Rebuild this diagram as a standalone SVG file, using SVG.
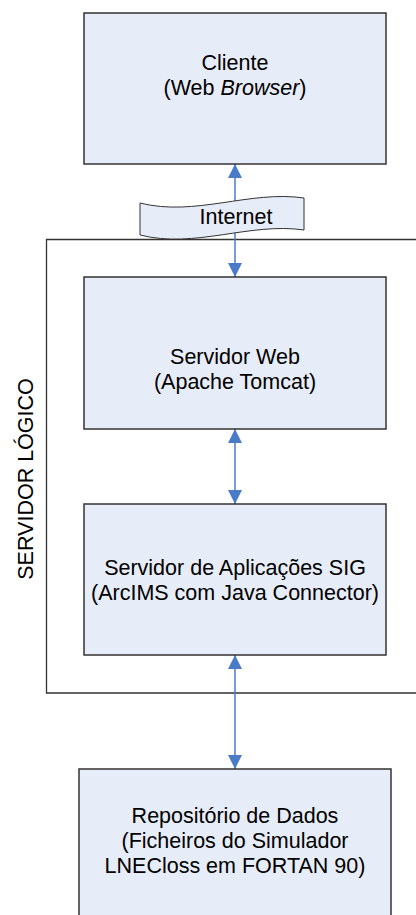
<svg xmlns="http://www.w3.org/2000/svg" width="416" height="915" viewBox="0 0 416 915">
<style>
.box{fill:#E7EDF8;stroke:#333;stroke-width:1.5}
.t{font-family:"Liberation Sans",Arial,sans-serif;font-size:21.5px;fill:#000;text-anchor:middle}
.conn{stroke:#4A7BC8;stroke-width:1.5;fill:none}
</style>
<defs>
<marker id="ah" markerUnits="userSpaceOnUse" markerWidth="14" markerHeight="14" refX="14" refY="7" orient="auto-start-reverse">
<path d="M0,0 L14,7 L0,14 z" fill="#4A7BC8"/>
</marker>
</defs>
<rect width="416" height="915" fill="#fff"/>
<g id="servidor-logico">
<path d="M420,239.5 H46.5 V693 H420" fill="none" stroke="#333" stroke-width="1.3"/>
<text class="t" transform="translate(33,479) rotate(-90)">SERVIDOR LÓGICO</text>
</g>
<g id="connectors">
<line class="conn" x1="235" y1="164" x2="235" y2="277" marker-start="url(#ah)" marker-end="url(#ah)"/>
<line class="conn" x1="235" y1="429" x2="235" y2="504" marker-start="url(#ah)" marker-end="url(#ah)"/>
<line class="conn" x1="235" y1="655" x2="235" y2="769" marker-start="url(#ah)" marker-end="url(#ah)"/>
</g>
<g id="cliente">
<rect class="box" x="84" y="13" width="302" height="151"/>
<text class="t" x="235" y="70">Cliente</text>
<text class="t" x="235" y="95">(Web <tspan font-style="italic">Browser</tspan>)</text>
</g>
<g id="internet">
<path d="M140,203 C195,217 250,190 304,198 L304,230 C250,222 195,249 140,235 Z" fill="#E7EDF8" stroke="#333" stroke-width="1"/>
<text class="t" x="236" y="224">Internet</text>
</g>
<g id="servidor-web">
<rect class="box" x="84" y="277" width="302" height="152"/>
<text class="t" x="235" y="364">Servidor Web</text>
<text class="t" x="235" y="389">(Apache Tomcat)</text>
</g>
<g id="servidor-sig">
<rect class="box" x="84" y="504" width="302" height="151"/>
<text class="t" x="235" y="575">Servidor de Aplicações SIG</text>
<text class="t" x="235" y="600">(ArcIMS com Java Connector)</text>
</g>
<g id="repositorio">
<rect class="box" x="79" y="769" width="312" height="160"/>
<text class="t" x="235" y="823">Repositório de Dados</text>
<text class="t" x="235" y="848">(Ficheiros do Simulador</text>
<text class="t" x="235" y="873">LNECloss em FORTAN 90)</text>
</g>
</svg>
